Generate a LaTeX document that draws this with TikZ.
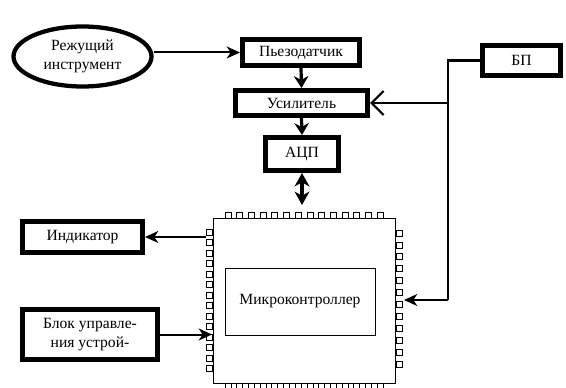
\documentclass[tikz,border=0pt]{standalone}
\usepackage{fontspec}
\setmainfont{Liberation Serif}
\usetikzlibrary{arrows.meta,shapes.geometric,shapes.misc}
\begin{document}
\begin{tikzpicture}[x=0.75pt,y=-0.75pt,
  font=\fontsize{11.7}{14.3}\selectfont,
  blk/.style={draw,line width=3.75pt,inner sep=0pt,align=center},
  arr/.style={line width=1.5pt,-{Stealth[length=10pt,width=9pt,inset=3pt]}},
  darr/.style={line width=2.6pt,{Stealth[length=10pt,width=11pt,inset=3pt]}-{Stealth[length=10pt,width=11pt,inset=3pt]}},
  varr/.style={line width=2.4pt,-{Stealth[length=9pt,width=11pt,inset=3pt]}},
  pin/.style={draw,line width=0.6pt},
  thin/.style={line width=1.6pt}]
\useasboundingbox (0,0) rectangle (566,388);
\fill[white] (0,0) rectangle (566,388);

% nodes
\node[blk,ellipse,line width=3.2pt,minimum width=103.5pt,minimum height=45pt] (cut) at (82.5,56.5) {Режущий\\инструмент};
\node[blk,minimum width=87.75pt,minimum height=19.5pt] (piezo) at (301,52.5) {Пьезодатчик};
\node[blk,minimum width=99pt,minimum height=18.75pt] (amp) at (301.5,103) {Усилитель};
\node[blk,minimum width=54.75pt,minimum height=24.75pt] (adc) at (302,154) {АЦП};
\node[blk,minimum width=58.5pt,minimum height=22.5pt] (psu) at (521.5,60.5) {БП};
\node[blk,minimum width=90pt,minimum height=23.25pt] (ind) at (82.5,237) {Индикатор};
\node[blk,minimum width=101.25pt,minimum height=37.5pt] (ctl) at (90,334.5) {Блок управле-\\ния устрой-};

% chip
\node[draw,chamfered rectangle,chamfered rectangle xsep=5pt,chamfered rectangle ysep=5pt,line width=0.6pt,minimum width=136.5pt,minimum height=123.75pt,inner sep=0pt] (chip) at (304,300.5) {};
\node[draw,line width=0.6pt,minimum width=112.5pt,minimum height=50.25pt,inner sep=0pt] (mc) at (300,301.5) {Микроконтроллер};

% pins
\foreach \i in {0,...,13} {
  \draw[pin] ({228+\i*11.7-3},212) rectangle ++(6,6);
  \draw[pin] ({228+\i*11.7-3},383) rectangle ++(6,6);
  \draw[pin] (206,{232+\i*10.5-3}) rectangle ++(6,6);
}
\foreach \i in {0,...,11} {
  \draw[pin] (396,{233+\i*11.9-3}) rectangle ++(6,6);
}

% connectors
\draw[arr] (cut.east |- piezo.west) -- (piezo.west);
\draw[varr] (piezo.south) -- (amp.north);
\draw[varr] (amp.south) -- (adc.north);
\coordinate (chiptop) at (302,205);
\draw[darr] (adc.south) -- (chiptop);

\coordinate (indout) at (206,237);
\draw[arr] (indout) -- (ind.east);
\coordinate (ctlin) at (212,334.5);
\draw[arr] (ctl.east) -- (ctlin);

\coordinate (bend1) at (448,60.5);
\coordinate (branch) at (448,103);
\coordinate (bend2) at (448,300);
\coordinate (chipin) at (404,300);
\draw[thin] (psu.west) -- (bend1) -- (bend2);
\draw[arr] (bend2) -- (chipin);
\draw[thin,-{Straight Barb[length=9pt,width=18pt]}] (branch) -- (amp.east);
\end{tikzpicture}
\end{document}
